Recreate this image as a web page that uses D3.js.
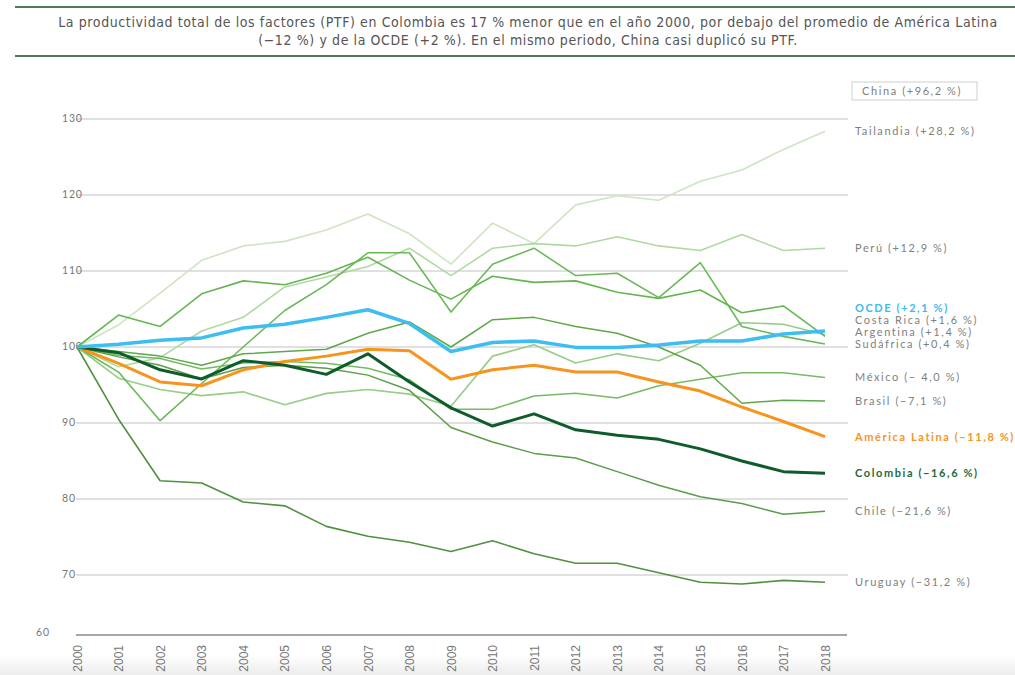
<!DOCTYPE html>
<html>
<head>
<meta charset="utf-8">
<script src="https://cdn.jsdelivr.net/npm/d3@7"></script>
<style>
  body { margin: 0; background: #fff; }
  svg { display: block; }
</style>
</head>
<body>
<div id="chart"></div>
<script>
// years on the x axis
var years = d3.range(2000, 2019);
var yTicks = [60, 70, 80, 90, 100, 110, 120, 130];

// PTF index (2000 = 100)
var tailandia = [100, 102.9, 107.1, 111.4, 113.3, 113.9, 115.4, 117.5, 114.9, 110.9, 116.3, 113.6, 118.7, 119.9, 119.3, 121.8, 123.3, 126.0, 128.4];
var peru = [100, 97.4, 98.6, 102.1, 103.9, 107.9, 109.2, 110.6, 113.0, 109.4, 113.0, 113.6, 113.3, 114.5, 113.3, 112.7, 114.8, 112.7, 113.0];
var ocde = [100, 100.35, 100.9, 101.2, 102.5, 103.0, 103.9, 104.9, 103.1, 99.4, 100.6, 100.8, 99.95, 99.95, 100.25, 100.8, 100.8, 101.7, 102.1];
var costaRica = [100, 95.9, 94.4, 93.6, 94.1, 92.4, 93.9, 94.4, 93.8, 92.2, 98.8, 100.3, 97.9, 99.1, 98.2, 100.5, 103.2, 103.0, 101.6];
var argentina = [100, 104.2, 102.7, 107.0, 108.7, 108.2, 109.7, 111.8, 108.8, 106.3, 109.3, 108.5, 108.7, 107.2, 106.4, 107.5, 104.5, 105.4, 101.4];
var sudafrica = [100, 96.7, 90.3, 95.2, 100.0, 104.8, 108.2, 112.4, 112.4, 104.6, 110.9, 113.0, 109.4, 109.7, 106.5, 111.1, 102.7, 101.4, 100.4];
var mexico = [100, 98.9, 98.5, 97.1, 97.9, 98.1, 97.85, 97.2, 95.7, 91.8, 91.8, 93.55, 93.9, 93.3, 94.9, 95.75, 96.6, 96.6, 96.0];
var brasil = [100, 99.4, 98.8, 97.6, 99.1, 99.4, 99.7, 101.8, 103.3, 100.0, 103.6, 103.9, 102.7, 101.8, 100.0, 97.6, 92.6, 93.0, 92.9];
var americaLatina = [100, 97.85, 95.4, 94.9, 97.0, 98.1, 98.8, 99.7, 99.5, 95.75, 97.0, 97.6, 96.7, 96.7, 95.4, 94.2, 92.1, 90.2, 88.2];
var colombia = [100, 99.25, 97.0, 95.8, 98.2, 97.6, 96.4, 99.1, 95.4, 92.0, 89.6, 91.2, 89.1, 88.4, 87.85, 86.6, 85.0, 83.6, 83.4];
var chile = [100, 98.7, 97.6, 95.8, 97.3, 97.6, 97.2, 96.3, 94.3, 89.4, 87.5, 86.0, 85.4, 83.6, 81.8, 80.3, 79.4, 78.0, 78.4];
var uruguay = [100, 90.5, 82.4, 82.1, 79.6, 79.1, 76.4, 75.1, 74.3, 73.1, 74.5, 72.8, 71.55, 71.55, 70.3, 68.8, 68.5, 69.1, 68.8];

// series, in drawing order
var series = [
  { name: "Tailandia (+28,2 %)", values: tailandia, color: "#cde5c2", width: 1.6 },
  { name: "Perú (+12,9 %)", values: peru, color: "#b0d8a2", width: 1.6 },
  { name: "Costa Rica (+1,6 %)", values: costaRica, color: "#97cd85", width: 1.6 },
  { name: "México (\u2212 4,0  %)", values: mexico, color: "#74bb62", width: 1.5 },
  { name: "Argentina (+1,4 %)", values: argentina, color: "#66b552", width: 1.6 },
  { name: "Sudáfrica (+0,4 %)", values: sudafrica, color: "#6ab957", width: 1.6 },
  { name: "Brasil (\u22127,1 %)", values: brasil, color: "#5ea84a", width: 1.5 },
  { name: "Chile (\u221221,6 %)", values: chile, color: "#5b9d48", width: 1.5 },
  { name: "Uruguay (\u221231,2 %)", values: uruguay, color: "#4f913e", width: 1.6 },
  { name: "América Latina (\u221211,8 %)", values: americaLatina, color: "#f7941d", width: 3, label: "#f7941d" },
  { name: "Colombia (\u221216,6 %)", values: colombia, color: "#0e5c2c", width: 3, label: "#1f6b3c" },
  { name: "OCDE (+2,1 %)", values: ocde, color: "#3dbdf0", width: 3.5, label: "#3dbaf0" }
];

var W = 1015, H = 675;

var svg = d3.select("#chart")
  .append("svg")
  .attr("width", W)
  .attr("height", H);

// faint grey strip along the bottom
var defs = svg.append("defs");
var grad = defs.append("linearGradient")
  .attr("id", "fade")
  .attr("x1", 0).attr("y1", 0).attr("x2", 0).attr("y2", 1);
grad.append("stop").attr("offset", "0%").attr("stop-color", "#fff");
grad.append("stop").attr("offset", "100%").attr("stop-color", "#ececec");
svg.append("rect")
  .attr("x", 0).attr("y", 655).attr("width", W).attr("height", 20)
  .attr("fill", "url(#fade)");

// title with rules
svg.append("line")
  .attr("x1", 15).attr("x2", W).attr("y1", 7).attr("y2", 7)
  .attr("stroke", "#4c7a5c").attr("stroke-width", 2);
svg.append("line")
  .attr("x1", 15).attr("x2", W).attr("y1", 56).attr("y2", 56)
  .attr("stroke", "#4c7a5c").attr("stroke-width", 2);

var titleLines = [
  "La productividad total de los factores (PTF) en Colombia es 17 % menor que en el año 2000, por debajo del promedio de América Latina",
  "(\u221212 %) y de la OCDE (+2 %). En el mismo periodo, China casi duplicó su PTF."
];
svg.append("g")
  .selectAll("text")
  .data(titleLines)
  .enter()
  .append("text")
  .attr("x", 528)
  .attr("y", function (d, i) { return 27 + i * 18; })
  .attr("text-anchor", "middle")
  .style("font-family", "'Liberation Sans Narrow', 'DejaVu Sans Condensed', sans-serif")
  .style("font-size", "14px")
  .style("letter-spacing", "0.6px")
  .style("fill", "#555")
  .text(function (d) { return d; });

// scales (the 60 baseline sits closer than the other steps in the original)
var x = d3.scaleLinear()
  .domain([2000, 2018])
  .range([77, 825]);

var y = d3.scaleLinear()
  .domain([60, 70, 130])
  .range([635, 575, 119]);

// grid lines
svg.append("g")
  .selectAll("line")
  .data(yTicks.filter(function (d) { return d > 60; }))
  .enter()
  .append("line")
  .attr("x1", 76).attr("x2", 848)
  .attr("y1", function (d) { return y(d); })
  .attr("y2", function (d) { return y(d); })
  .attr("stroke", "#d6d6d6")
  .attr("stroke-width", 1.5);

// y labels
svg.append("g")
  .selectAll("text")
  .data(yTicks)
  .enter()
  .append("text")
  .attr("x", function (d) { return d === 60 ? 36 : 62; })
  .attr("y", function (d) { return y(d) + (d === 60 ? 1 : 3); })
  .style("font-family", "Lato, sans-serif")
  .style("font-size", "10.5px")
  .style("letter-spacing", "0.8px")
  .style("fill", "#777")
  .text(function (d) { return d; });

// x axis: baseline at 60 plus rotated year labels
svg.append("line")
  .attr("x1", 76).attr("x2", 847)
  .attr("y1", y(60)).attr("y2", y(60))
  .attr("stroke", "#8a8a8a")
  .attr("stroke-width", 1.5);

var xAxis = svg.append("g")
  .attr("transform", "translate(0," + y(60) + ")")
  .call(d3.axisBottom(x)
    .tickValues(years)
    .tickFormat(d3.format("d"))
    .tickSize(0)
    .tickPadding(0));
xAxis.select(".domain").remove();
xAxis.selectAll("text")
  .attr("transform", "rotate(-90)")
  .attr("x", -10)
  .attr("y", 0)
  .attr("dy", "0.35em")
  .attr("dx", 0)
  .style("text-anchor", "end")
  .style("font-family", "'Liberation Sans Narrow', sans-serif")
  .style("font-size", "12px")
  .style("fill", "#777");

// lines
var line = d3.line()
  .x(function (d, i) { return x(years[i]); })
  .y(function (d) { return y(d); });

svg.append("g")
  .selectAll("path")
  .data(series)
  .enter()
  .append("path")
  .attr("d", function (d) { return line(d.values); })
  .attr("fill", "none")
  .attr("stroke", function (d) { return d.color; })
  .attr("stroke-width", function (d) { return d.width; })
  .attr("stroke-linejoin", "round");

// right-hand labels, pushed apart where they crowd
var labels = series.map(function (d) {
  return {
    name: d.name,
    bold: !!d.label,
    color: d.label || "#808080",
    pos: y(d.values[d.values.length - 1])
  };
});
labels.sort(function (a, b) { return b.pos - a.pos; });
for (var i = 1; i < labels.length; i++) {
  if (labels[i - 1].pos - labels[i].pos < 12) {
    labels[i].pos = labels[i - 1].pos - 12;
  }
}

svg.append("g")
  .selectAll("text")
  .data(labels)
  .enter()
  .append("text")
  .attr("x", 855)
  .attr("y", function (d) { return d.pos + 4; })
  .style("font-family", "Lato, sans-serif")
  .style("font-size", "11px")
  .style("font-weight", function (d) { return d.bold ? "bold" : "normal"; })
  .style("letter-spacing", "1.6px")
  .style("fill", function (d) { return d.color; })
  .text(function (d) { return d.name; });

// China is off the scale: boxed label
svg.append("rect")
  .attr("x", 852).attr("y", 82).attr("width", 125).attr("height", 18)
  .attr("fill", "none")
  .attr("stroke", "#cfcfcf");
svg.append("text")
  .attr("x", 862).attr("y", 95)
  .style("font-family", "Lato, sans-serif")
  .style("font-size", "11px")
  .style("letter-spacing", "1.6px")
  .style("fill", "#808080")
  .text("China (+96,2 %)");
</script>
</body>
</html>
